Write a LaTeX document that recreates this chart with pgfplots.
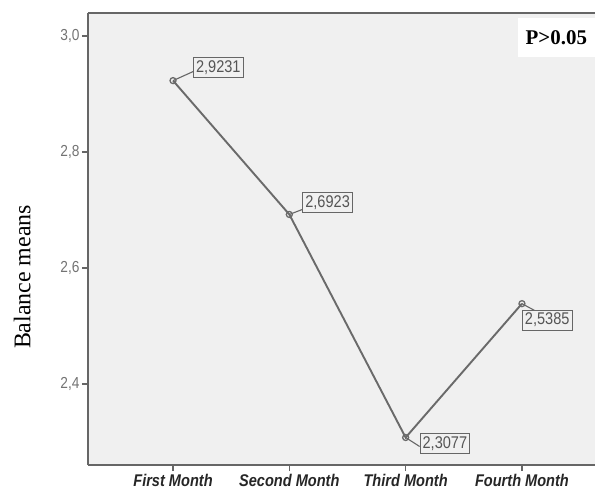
\documentclass[border=0pt]{standalone}
\usepackage{pgfplots}
\pgfplotsset{compat=1.18}
\usepackage{fontspec}
\setmainfont{Liberation Serif}
\newfontfamily\narrow[FakeStretch=0.86]{Liberation Sans}
\definecolor{bg}{HTML}{F0F0F0}
\definecolor{axisgray}{HTML}{666666}
\definecolor{linegray}{HTML}{6A6A6A}
\definecolor{lblgray}{HTML}{555555}
\begin{document}
\begin{tikzpicture}
\begin{axis}[
  at={(0,0)}, anchor=south west,
  scale only axis, width=507bp, height=452bp,
  xmin=0.269, xmax=4.628, ymin=2.2603, ymax=3.0397,
  axis background/.style={fill=bg},
  axis x line*=bottom, axis y line*=left,
  axis line style={draw=axisgray, line width=1.6bp},
  xtick={1,2,3,4},
  xticklabels={First Month,Second Month,Third Month,Fourth Month},
  ytick={2.4,2.6,2.8,3.0},
  yticklabels={{2,4},{2,6},{2,8},{3,0}},
  tick align=outside, major tick length=6bp,
  tick style={draw=axisgray, line width=1.2bp},
  xticklabel style={font=\narrow\bfseries\itshape\fontsize{17}{17}\selectfont, text=black!85, yshift=0bp},
  yticklabel style={font=\narrow\fontsize{16}{16}\selectfont, text=black!55, xshift=1bp},
  ylabel={Balance means},
  ylabel style={at={(axis description cs:-0.130,0.416)}, rotate=0, anchor=center, font=\fontsize{24}{24}\selectfont},
  clip=false,
]
\draw[axisgray, line width=1.6bp] (rel axis cs:0,1) -- (rel axis cs:1,1);
\addplot[linegray, line width=1.9bp, mark=o, mark size=3bp, mark options={line width=1.3bp, fill=none}]
  coordinates {(1,2.9231) (2,2.6923) (3,2.3077) (4,2.5385)};
\tikzset{lbl/.style={draw=axisgray, line width=1bp, fill=bg, text=lblgray, inner xsep=2.5bp, inner ysep=3bp, font=\narrow\fontsize{17}{17}\selectfont}}
\draw[axisgray, line width=1.1bp] (axis cs:1,2.9231) -- ++(20bp,9bp) node[lbl, anchor=west, yshift=4bp] {2,9231};
\draw[axisgray, line width=1.1bp] (axis cs:2,2.6923) -- ++(13bp,5bp) node[lbl, anchor=west, yshift=7bp] {2,6923};
\draw[axisgray, line width=1.1bp] (axis cs:3,2.3077) -- ++(14bp,-9bp) node[lbl, anchor=west, yshift=3bp] {2,3077};
\draw[axisgray, line width=1.1bp] (axis cs:4,2.5385) -- ++(13bp,-7bp) node[lbl, anchor=north west, xshift=-13bp, yshift=1bp] {2,5385};
\node[fill=white, anchor=north east, minimum width=77bp, minimum height=39bp, font=\bfseries\fontsize{21}{21}\selectfont] at ([yshift=-5bp]rel axis cs:1,1) {P>0.05};
\end{axis}
\pgfresetboundingbox
\path[use as bounding box] (-88bp,-31bp) rectangle (507bp,465bp);
\end{tikzpicture}
\end{document}
